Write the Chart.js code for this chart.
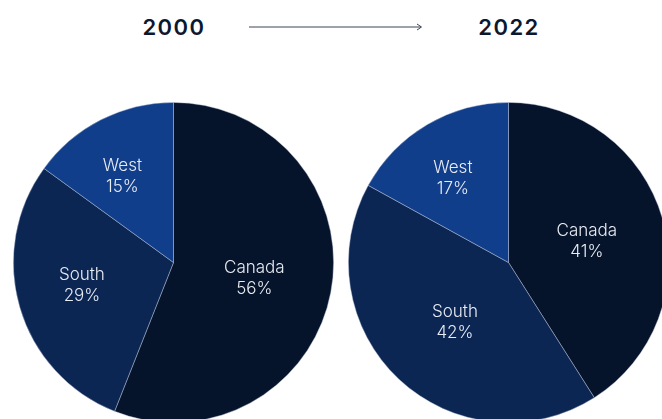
<!DOCTYPE html>
<html>
<head>
<meta charset="utf-8">
<script src="https://cdn.jsdelivr.net/npm/chart.js@4.4.1/dist/chart.umd.min.js"></script>
<style>
  html, body { margin: 0; padding: 0; background: #fff; }
  body { width: 662px; height: 419px; overflow: hidden; position: relative; font-family: Inter, "Noto Sans", sans-serif; }
  .year { position: absolute; top: 12px; width: 120px; margin-left: -60px; text-align: center;
          font-size: 22px; font-weight: 600; letter-spacing: 1.5px; color: #0b1830; line-height: 30px; }
  .arrow { position: absolute; left: 248px; top: 20px; }
  canvas { position: absolute; top: 102px; }
</style>
</head>
<body>
<div class="year" id="titleA" style="left:174px"></div>
<div class="year" id="titleB" style="left:509px"></div>
<svg class="arrow" width="176" height="14">
  <line x1="1" y1="7" x2="173" y2="7" stroke="#3d4656" stroke-width="1"/>
  <polyline points="169,4 173.5,7 169,10" fill="none" stroke="#3d4656" stroke-width="1"/>
</svg>
<canvas id="pie2000" width="321" height="321" style="left:13px"></canvas>
<canvas id="pie2022" width="321" height="321" style="left:348px"></canvas>
<script>
const regions = ['Canada', 'South', 'West'];
const years = ['2000', '2022'];
const share2000 = [56, 29, 15];
const share2022 = [41, 42, 17];

const sliceColors = ['#06142b', '#0c2654', '#113e8b'];
// label placement per slice: distance from the centre (share of radius)
// and a small turn off the slice's middle angle, in degrees
const labelPlace = {
  pie2000: { depth: [0.514, 0.59, 0.625], turn: [0, 2, -3.7] },
  pie2022: { depth: [0.507, 0.50, 0.63], turn: [1, -1.2, -2.9] }
};

document.getElementById('titleA').textContent = years[0];
document.getElementById('titleB').textContent = years[1];

const sliceLabels = {
  id: 'sliceLabels',
  afterDatasetsDraw(chart) {
    const ctx = chart.ctx;
    const meta = chart.getDatasetMeta(0);
    const values = chart.data.datasets[0].data;
    const place = labelPlace[chart.canvas.id];
    ctx.save();
    ctx.fillStyle = '#e8ecf3';
    ctx.font = '300 17px Inter, "Noto Sans", sans-serif';
    ctx.textAlign = 'center';
    ctx.textBaseline = 'middle';
    meta.data.forEach((arc, i) => {
      const p = arc.getProps(['x', 'y', 'startAngle', 'endAngle', 'outerRadius'], true);
      const mid = (p.startAngle + p.endAngle) / 2 + place.turn[i] * Math.PI / 180;
      const r = p.outerRadius * place.depth[i];
      const x = p.x + Math.cos(mid) * r;
      const y = p.y + Math.sin(mid) * r;
      ctx.fillText(chart.data.labels[i], x, y - 10.5);
      ctx.fillText(values[i] + '%', x, y + 10.5);
    });
    ctx.restore();
  }
};

function drawPie(id, values) {
  return new Chart(document.getElementById(id), {
    type: 'pie',
    data: {
      labels: regions,
      datasets: [{
        data: values,
        backgroundColor: sliceColors,
        borderColor: 'rgba(190, 200, 220, 0.55)',
        borderWidth: 0.8
      }]
    },
    options: {
      responsive: false,
      animation: false,
      layout: { padding: 0 },
      plugins: {
        legend: { display: false },
        tooltip: { enabled: false }
      }
    },
    plugins: [sliceLabels]
  });
}

drawPie('pie2000', share2000);
drawPie('pie2022', share2022);
</script>
</body>
</html>
